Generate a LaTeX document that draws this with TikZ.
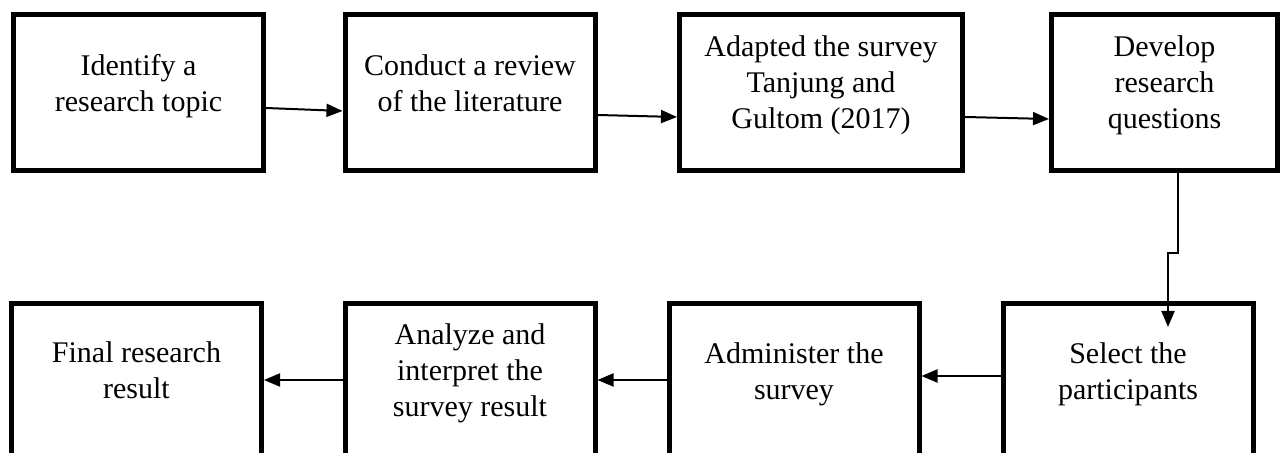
\documentclass[tikz,border=0pt]{standalone}
\usepackage{fontspec}
\setmainfont{Liberation Serif}
\usetikzlibrary{arrows.meta}

\begin{document}
\begin{tikzpicture}[x=0.5pt,y=-0.5pt,
  stepbox/.style={draw,line width=2.5pt,minimum width=125pt,minimum height=78pt,inner sep=0pt},
  steptext/.style={align=center,inner sep=0pt,font=\fontsize{15}{18}\selectfont,
    execute at begin node=\strut,execute at end node=\strut},
  flow/.style={line width=1pt,-{Triangle[length=8pt,width=6.5pt]}}]
\useasboundingbox (0,0) rectangle (1280,453);
\clip (0,0) rectangle (1280,453);
% upper row
\node[stepbox] (b1) at (138.5,92.5) {};
\node[stepbox] (b2) at (470,92.5) {};
\node[stepbox,minimum width=141.5pt] (b3) at (821,92.5) {};
\node[stepbox,minimum width=113pt] (b4) at (1164.5,92.5) {};
\node[steptext] (t1) at ([yshift=2.25pt]b1.center) {Identify a\\research topic};
\node[steptext] (t2) at ([yshift=2.25pt]b2.center) {Conduct a review\\of the literature};
\node[steptext] (t3) at ([yshift=2.75pt]b3.center) {Adapted the survey\\Tanjung and\\Gultom (2017)};
\node[steptext] (t4) at ([yshift=2.75pt]b4.center) {Develop\\research\\questions};
% lower row
\node[stepbox] (b5) at (136.5,381.5) {};
\node[stepbox] (b6) at (470,381.5) {};
\node[stepbox] (b7) at (794,381.5) {};
\node[stepbox] (b8) at (1128,381.5) {};
\node[steptext] (t5) at ([yshift=3pt]b5.center) {Final research\\result};
\node[steptext] (t6) at ([yshift=3pt]b6.center) {Analyze and\\interpret the\\survey result};
\node[steptext] (t7) at ([yshift=2.5pt]b7.center) {Administer the\\survey};
\node[steptext] (t8) at ([yshift=2.5pt]b8.center) {Select the\\participants};
% connectors
\draw[flow] ([yshift=-7.75pt]b1.east) -- ([yshift=-9.25pt]b2.west);
\draw[flow] ([yshift=-11.25pt]b2.east) -- ([yshift=-12.25pt]b3.west);
\draw[flow] ([yshift=-12.25pt]b3.east) -- ([yshift=-13.25pt]b4.west);
\draw[flow] ([xshift=6.75pt]b4.south) -- ++(0,-40pt) -| ([xshift=20pt,yshift=-13pt]b8.north);
\draw[flow] ([yshift=2.75pt]b8.west) -- ([yshift=2.75pt]b7.east);
\draw[flow] ([yshift=0.75pt]b7.west) -- ([yshift=0.75pt]b6.east);
\draw[flow] ([yshift=0.75pt]b6.west) -- ([yshift=0.75pt]b5.east);
\end{tikzpicture}
\end{document}
